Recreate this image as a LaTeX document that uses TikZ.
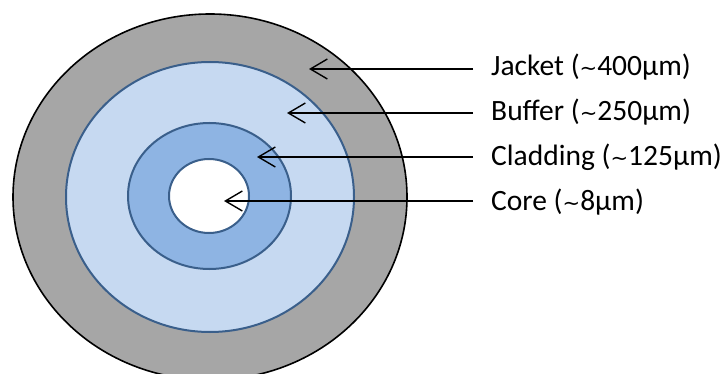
\documentclass[tikz,border=0pt]{standalone}
\usepackage{fontspec}
\setmainfont{Carlito}
\newfontfamily\symfont{DejaVu Sans}
\usetikzlibrary{shapes.geometric,arrows.meta}
\definecolor{jacketgray}{HTML}{A6A6A6}
\definecolor{bufferblue}{HTML}{C6D9F1}
\definecolor{cladblue}{HTML}{8EB4E3}
\definecolor{edgeblue}{HTML}{3A5F8B}
\newcommand{\mytilde}{{\symfont\fontsize{21}{24}\selectfont ∼}}
\tikzset{
  layer/.style={ellipse, inner sep=0pt, line width=2pt, draw=edgeblue},
  lbl/.style={anchor=west, inner sep=0pt, font=\fontsize{29.5}{34}\selectfont},
  pointer/.style={line width=1.4pt, -{Straight Barb[length=17pt,width=20pt,line width=1.4pt]}}
}
\begin{document}
\begin{tikzpicture}[x=1pt,y=-1pt]
\useasboundingbox (0,0) rectangle (725,374);
\begin{scope}
\clip (0,0) rectangle (725,374);
\node[ellipse, inner sep=0pt, draw=black, line width=1.6pt, fill=jacketgray, minimum width=394pt, minimum height=366pt] (jacket) at (210,197) {};
\end{scope}
\node[layer, fill=bufferblue, minimum width=288pt, minimum height=270pt] (buffer) at (210,197) {};
\node[layer, fill=cladblue, minimum width=163pt, minimum height=146pt] (cladding) at (209.5,196) {};
\node[layer, fill=white, minimum width=80pt, minimum height=74pt] (core) at (209,196) {};

\node[lbl] (tj) at (491,67) {Jacket (\mytilde400µm)};
\node[lbl] (tb) at (491,112) {Buffer (\mytilde250µm)};
\node[lbl] (tc) at (491,157) {Cladding (\mytilde125µm)};
\node[lbl] (tk) at (491,202) {Core (\mytilde8µm)};

\coordinate (pj) at (309,69);
\coordinate (pb) at (287,113);
\coordinate (pc) at (257,157);
\coordinate (pk) at (224,201);

\draw[pointer] ([xshift=-18pt]tj.west |- pj) -- (pj);
\draw[pointer] ([xshift=-18pt]tb.west |- pb) -- (pb);
\draw[pointer] ([xshift=-18pt]tc.west |- pc) -- (pc);
\draw[pointer] ([xshift=-18pt]tk.west |- pk) -- (pk);
\end{tikzpicture}
\end{document}
